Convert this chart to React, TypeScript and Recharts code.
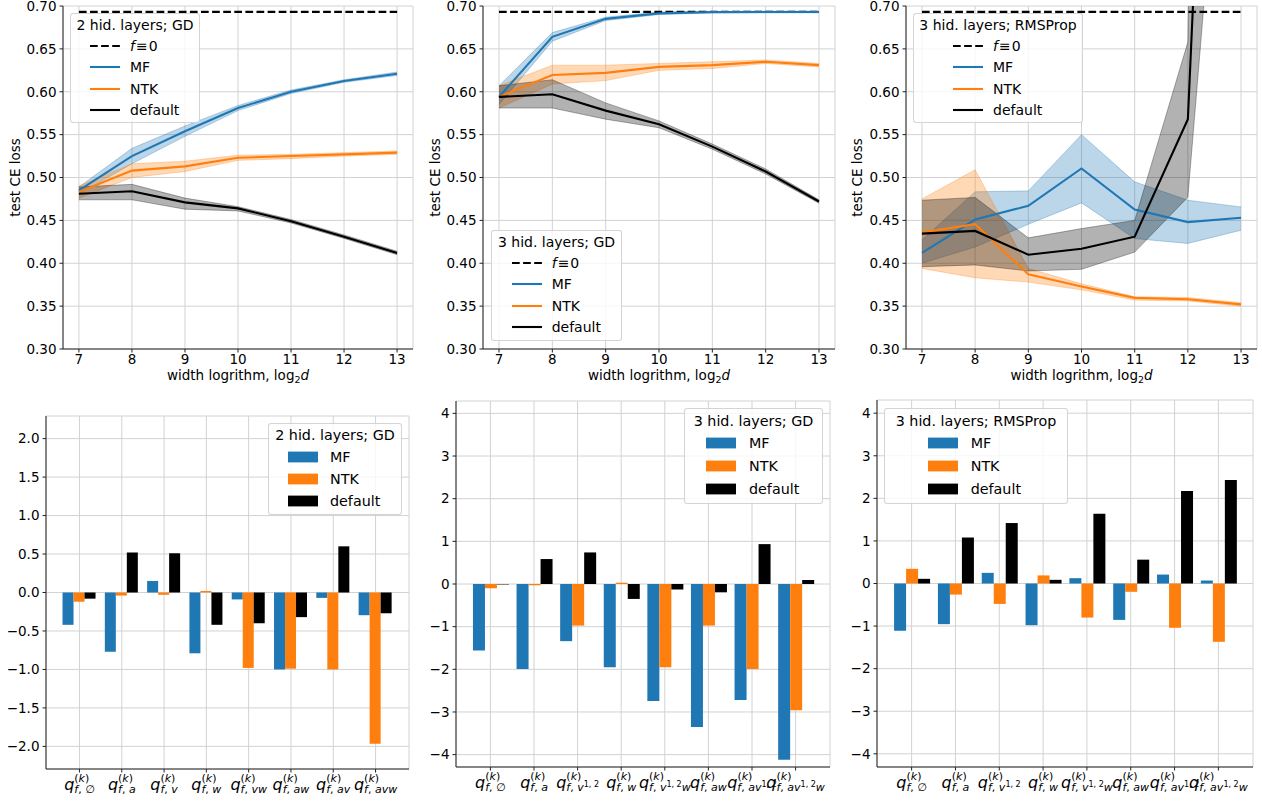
import React from "react";
import {
  ComposedChart,
  BarChart,
  Bar,
  Line,
  Area,
  XAxis,
  YAxis,
  CartesianGrid,
  Legend,
  Label,
} from "recharts";

const FONT = '"DejaVu Sans", Verdana, sans-serif';
const C_MF = "#1f77b4";
const C_NTK = "#ff7f0e";
const C_DEF = "#000000";
const GRID = "#d2d2d2";
const SPINE = "#222222";

// ---------------- top row: test CE loss vs width logarithm ----------------
const WIDTH_LOG2 = [7, 8, 9, 10, 11, 12, 13];
const LOSS_TICKS = [0.3, 0.35, 0.4, 0.45, 0.5, 0.55, 0.6, 0.65, 0.7];
const ZERO_LOSS = 0.6931; // f ≡ 0  (ln 2)

// 2 hidden layers; GD
const GD2_MF = [0.485, 0.525, 0.554, 0.581, 0.6, 0.6125, 0.621];
const GD2_MF_LO = [0.481, 0.516, 0.548, 0.578, 0.598, 0.611, 0.619];
const GD2_MF_HI = [0.489, 0.534, 0.56, 0.584, 0.602, 0.614, 0.623];
const GD2_NTK = [0.483, 0.508, 0.513, 0.523, 0.525, 0.527, 0.529];
const GD2_NTK_LO = [0.476, 0.5, 0.507, 0.52, 0.522, 0.525, 0.527];
const GD2_NTK_HI = [0.49, 0.516, 0.519, 0.526, 0.527, 0.529, 0.531];
const GD2_DEF = [0.481, 0.484, 0.471, 0.464, 0.449, 0.431, 0.412];
const GD2_DEF_LO = [0.474, 0.474, 0.463, 0.461, 0.447, 0.429, 0.41];
const GD2_DEF_HI = [0.489, 0.492, 0.476, 0.466, 0.451, 0.433, 0.414];

// 3 hidden layers; GD
const GD3_MF = [0.594, 0.664, 0.685, 0.6914, 0.6928, 0.693, 0.693];
const GD3_MF_LO = [0.585, 0.659, 0.683, 0.69, 0.692, 0.692, 0.692];
const GD3_MF_HI = [0.607, 0.669, 0.687, 0.693, 0.6935, 0.694, 0.694];
const GD3_NTK = [0.594, 0.6195, 0.622, 0.629, 0.631, 0.635, 0.631];
const GD3_NTK_LO = [0.581, 0.609, 0.613, 0.625, 0.627, 0.633, 0.629];
const GD3_NTK_HI = [0.607, 0.631, 0.631, 0.633, 0.635, 0.637, 0.633];
const GD3_DEF = [0.594, 0.597, 0.578, 0.562, 0.536, 0.507, 0.472];
const GD3_DEF_LO = [0.581, 0.581, 0.568, 0.558, 0.533, 0.504, 0.47];
const GD3_DEF_HI = [0.607, 0.614, 0.587, 0.566, 0.539, 0.51, 0.474];

// 3 hidden layers; RMSProp
const RMS3_MF = [0.412, 0.451, 0.467, 0.5105, 0.4626, 0.448, 0.453];
const RMS3_MF_LO = [0.4, 0.419, 0.4455, 0.4704, 0.4288, 0.4231, 0.4385];
const RMS3_MF_HI = [0.427, 0.4833, 0.4844, 0.55, 0.4949, 0.4735, 0.4657];
const RMS3_NTK = [0.436, 0.4455, 0.387, 0.373, 0.3596, 0.358, 0.352];
const RMS3_NTK_LO = [0.394, 0.383, 0.378, 0.369, 0.357, 0.356, 0.35];
const RMS3_NTK_HI = [0.475, 0.509, 0.394, 0.376, 0.361, 0.36, 0.354];
const RMS3_DEF = [0.4346, 0.4377, 0.41, 0.417, 0.431, 0.568, 1.95];
const RMS3_DEF_LO = [0.396, 0.398, 0.391, 0.393, 0.413, 0.477, 1.22];
const RMS3_DEF_HI = [0.4735, 0.4767, 0.4296, 0.4404, 0.45, 0.658, 4.0];

// ---------------- bottom row: q-coefficients ----------------
const Q_SUB_2L = ["∅", "a", "v", "w", "vw", "aw", "av", "avw"];
const Q_SUB_3L = ["∅", "a", "v^{1, 2}", "w", "v^{1, 2}w", "aw", "av^{1, 2}", "av^{1, 2}w"];
const Q_TICKS_2L = [-2, -1.5, -1, -0.5, 0, 0.5, 1, 1.5, 2];
const Q_TICKS_3L = [-4, -3, -2, -1, 0, 1, 2, 3, 4];

const Q_GD2_MF = [-0.42, -0.77, 0.15, -0.79, -0.09, -1.0, -0.07, -0.295];
const Q_GD2_NTK = [-0.12, -0.04, -0.03, 0.02, -0.98, -0.99, -1.0, -1.965];
const Q_GD2_DEF = [-0.08, 0.52, 0.51, -0.42, -0.4, -0.32, 0.6, -0.27];

const Q_GD3_MF = [-1.56, -1.99, -1.34, -1.95, -2.74, -3.35, -2.72, -4.12];
const Q_GD3_NTK = [-0.1, -0.03, -0.975, 0.03, -1.95, -0.975, -1.99, -2.96];
const Q_GD3_DEF = [-0.01, 0.585, 0.74, -0.35, -0.13, -0.195, 0.935, 0.094];

const Q_RMS3_MF = [-1.11, -0.955, 0.25, -0.98, 0.125, -0.855, 0.21, 0.07];
const Q_RMS3_NTK = [0.345, -0.26, -0.48, 0.19, -0.8, -0.195, -1.04, -1.37];
const Q_RMS3_DEF = [0.11, 1.08, 1.42, 0.086, 1.64, 0.56, 2.17, 2.43];

const SERIES = [
  { key: "mf", name: "MF", color: C_MF },
  { key: "ntk", name: "NTK", color: C_NTK },
  { key: "def", name: "default", color: C_DEF },
];

const TICK_STYLE = { fontSize: 13.5, fill: "#000", fontFamily: FONT };
const DASH = "7.7 3.4";

type LegendCfg = {
  left: number;
  top: number;
  width: number;
  height: number;
  title: string;
  titleY: number;
  rowY0: number;
  rowDY: number;
  handleX: number;
  textX: number;
  fontSize: number;
  patch: boolean;
};

function LegendBox({ cfg }: { cfg: LegendCfg }) {
  const entries: { key: string; name: React.ReactNode; color: string; dash?: boolean }[] = [];
  if (!cfg.patch) {
    entries.push({
      key: "zero",
      name: (
        <span>
          <span style={{ fontStyle: "italic" }}>f</span>
          <span style={{ padding: "0 1px" }}>≡</span>0
        </span>
      ),
      color: "#000",
      dash: true,
    });
  }
  SERIES.forEach((s) => entries.push({ key: s.key, name: s.name, color: s.color }));
  return (
    <div
      style={{
        position: "relative",
        width: cfg.width,
        height: cfg.height,
        boxSizing: "border-box",
        border: "1px solid rgba(204,204,204,0.85)",
        borderRadius: 3,
        background: "rgba(255,255,255,0.8)",
        fontFamily: FONT,
        fontSize: cfg.fontSize,
        color: "#000",
      }}
    >
      <div
        style={{
          position: "absolute",
          left: -1,
          right: -1,
          top: cfg.titleY - 10,
          lineHeight: "18px",
          textAlign: "center",
          whiteSpace: "nowrap",
        }}
      >
        {cfg.title}
      </div>
      {entries.map((e, i) => {
        const cy = cfg.rowY0 + i * cfg.rowDY - 1;
        return (
          <React.Fragment key={e.key}>
            <svg
              width={30}
              height={18}
              style={{ position: "absolute", left: cfg.handleX - 1, top: cy - 9 }}
            >
              {cfg.patch ? (
                <rect x={0} y={3.6} width={30} height={10.8} fill={e.color} />
              ) : (
                <line
                  x1={0}
                  x2={30}
                  y1={9}
                  y2={9}
                  stroke={e.color}
                  strokeWidth={2.1}
                  strokeDasharray={e.dash ? DASH : undefined}
                />
              )}
            </svg>
            <div
              style={{
                position: "absolute",
                left: cfg.textX - 1,
                top: cy - 9,
                lineHeight: "18px",
                whiteSpace: "nowrap",
              }}
            >
              {e.name}
            </div>
          </React.Fragment>
        );
      })}
    </div>
  );
}

const makeYLossLabel = (xOff: number) => (props: any) => {
  const vb = props.viewBox || { x: 0, y: 0, width: 0, height: 0 };
  const x = vb.x + xOff;
  const y = vb.y + vb.height / 2;
  return (
    <text
      x={x}
      y={y}
      transform={`rotate(-90 ${x} ${y})`}
      textAnchor="middle"
      fontSize={13.5}
      fontFamily={FONT}
      fill="#000"
    >
      test CE loss
    </text>
  );
};

const XLossLabel = (props: any) => {
  const vb = props.viewBox || { x: 0, y: 0, width: 0, height: 0 };
  return (
    <text
      x={vb.x + vb.width / 2}
      y={vb.y + 31}
      textAnchor="middle"
      fontSize={13.5}
      fontFamily={FONT}
      fill="#000"
    >
      width logrithm, log
      <tspan fontSize={9.5} dy={2.5}>
        2
      </tspan>
      <tspan fontStyle="italic" dy={-2.5}>
        d
      </tspan>
    </text>
  );
};

type LossSet = {
  mf: number[];
  mfLo: number[];
  mfHi: number[];
  ntk: number[];
  ntkLo: number[];
  ntkHi: number[];
  def: number[];
  defLo: number[];
  defHi: number[];
};

function LossPanel(props: {
  left: number;
  width: number;
  yAxisWidth: number;
  marginRight: number;
  yLabelX: number;
  set: LossSet;
  legend: LegendCfg;
}) {
  const { left, width, yAxisWidth, marginRight, yLabelX, set, legend } = props;
  const rows = WIDTH_LOG2.map((x, i) => ({
    x,
    zero: ZERO_LOSS,
    mf: set.mf[i],
    mfBand: [set.mfLo[i], set.mfHi[i]],
    ntk: set.ntk[i],
    ntkBand: [set.ntkLo[i], set.ntkHi[i]],
    def: set.def[i],
    defBand: [set.defLo[i], set.defHi[i]],
  }));
  return (
    <div style={{ position: "absolute", left, top: 0 }}>
      <ComposedChart
        width={width}
        height={390}
        data={rows}
        margin={{ top: 6, right: marginRight, bottom: 0, left: 0 }}
      >
        <XAxis
          dataKey="x"
          type="number"
          domain={[6.7, 13.3]}
          ticks={WIDTH_LOG2}
          interval={0}
          allowDataOverflow
          height={41}
          tick={TICK_STYLE}
          tickSize={3.5}
          tickMargin={1.5}
          tickLine={{ stroke: SPINE }}
          axisLine={{ stroke: SPINE }}
        >
          <Label content={XLossLabel} />
        </XAxis>
        <XAxis
          xAxisId="top"
          orientation="top"
          dataKey="x"
          type="number"
          domain={[6.7, 13.3]}
          height={0}
          tick={false}
          tickLine={false}
          axisLine={{ stroke: SPINE }}
        />
        <YAxis
          type="number"
          domain={[0.3, 0.7]}
          ticks={LOSS_TICKS}
          interval={0}
          allowDataOverflow
          width={yAxisWidth}
          tick={TICK_STYLE}
          tickSize={3.5}
          tickMargin={3}
          tickLine={{ stroke: SPINE }}
          axisLine={{ stroke: SPINE }}
          tickFormatter={(v: number) => v.toFixed(2)}
        >
          <Label content={makeYLossLabel(yLabelX)} />
        </YAxis>
        <YAxis
          yAxisId="right"
          orientation="right"
          type="number"
          domain={[0, 1]}
          width={0}
          tick={false}
          tickLine={false}
          axisLine={{ stroke: SPINE }}
        />
        {SERIES.map((s) => (
          <Area
            key={s.key + "Band"}
            type="linear"
            dataKey={s.key + "Band"}
            stroke={s.color}
            strokeOpacity={0.3}
            strokeWidth={1}
            fill={s.color}
            fillOpacity={0.3}
            dot={false}
            activeDot={false}
            legendType="none"
            isAnimationActive={false}
          />
        ))}
        <CartesianGrid stroke={GRID} strokeWidth={1} />
        <Line
          type="linear"
          dataKey="zero"
          stroke="#000"
          strokeWidth={2.1}
          strokeDasharray={DASH}
          dot={false}
          activeDot={false}
          isAnimationActive={false}
        />
        {SERIES.map((s) => (
          <Line
            key={s.key}
            type="linear"
            dataKey={s.key}
            stroke={s.color}
            strokeWidth={2.1}
            dot={false}
            activeDot={false}
            isAnimationActive={false}
          />
        ))}
        <Legend
          verticalAlign="middle"
          align="center"
          layout="horizontal"
          wrapperStyle={{
            left: legend.left,
            top: legend.top,
            width: legend.width,
            height: legend.height,
          }}
          content={() => <LegendBox cfg={legend} />}
        />
      </ComposedChart>
    </div>
  );
}

function parseSub(s: string) {
  const segs: { t: string; sup: boolean }[] = [];
  const re = /\^\{([^}]*)\}/g;
  let last = 0;
  let m: RegExpExecArray | null;
  while ((m = re.exec(s))) {
    if (m.index > last) segs.push({ t: s.slice(last, m.index), sup: false });
    segs.push({ t: m[1], sup: true });
    last = re.lastIndex;
  }
  if (last < s.length) segs.push({ t: s.slice(last), sup: false });
  return segs;
}

const QTick = (props: any) => {
  const { x, y, payload } = props;
  const segs = parseSub(String(payload.value));
  const parts: React.ReactNode[] = [];
  parts.push(
    <tspan key="q" fontSize={16} fontStyle="italic" dy={15}>
      q
    </tspan>
  );
  parts.push(
    <tspan key="k1" fontSize={11} dy={-7.5}>
      (
    </tspan>
  );
  parts.push(
    <tspan key="k2" fontSize={11} fontStyle="italic">
      k
    </tspan>
  );
  parts.push(
    <tspan key="k3" fontSize={11}>
      )
    </tspan>
  );
  parts.push(
    <tspan key="f" fontSize={11} fontStyle="italic" dx={-15} dy={11}>
      f
    </tspan>
  );
  parts.push(
    <tspan key="c" fontSize={11}>
      {", "}
    </tspan>
  );
  let pending = 0;
  segs.forEach((sg, i) => {
    if (sg.sup) {
      parts.push(
        <tspan key={"s" + i} fontSize={8} dy={-4 + pending}>
          {sg.t}
        </tspan>
      );
      pending = 4;
    } else {
      parts.push(
        <tspan
          key={"s" + i}
          fontSize={11}
          fontStyle={sg.t === "∅" ? "normal" : "italic"}
          dy={pending}
        >
          {sg.t}
        </tspan>
      );
      pending = 0;
    }
  });
  return (
    <text x={x} y={y} textAnchor="middle" fontFamily={FONT} fill="#000">
      {parts}
    </text>
  );
};

function QPanel(props: {
  left: number;
  width: number;
  marginTop: number;
  marginRight: number;
  yAxisWidth: number;
  xAxisHeight: number;
  domain: [number, number];
  ticks: number[];
  digits: number;
  subs: string[];
  mf: number[];
  ntk: number[];
  def: number[];
  pad: number;
  legend: LegendCfg;
}) {
  const p = props;
  const rows = p.subs.map((s, i) => ({ cat: s, mf: p.mf[i], ntk: p.ntk[i], def: p.def[i] }));
  const fmt = (v: number) => (v < 0 ? "\u2212" : "") + Math.abs(v).toFixed(p.digits);
  return (
    <div style={{ position: "absolute", left: p.left, top: 390 }}>
      <BarChart
        width={p.width}
        height={411}
        data={rows}
        margin={{ top: p.marginTop, right: p.marginRight, bottom: 0, left: 0 }}
        barCategoryGap="10%"
        barGap={0}
      >
        <CartesianGrid stroke={GRID} strokeWidth={1} />
        <XAxis
          dataKey="cat"
          type="category"
          interval={0}
          height={p.xAxisHeight}
          padding={{ left: p.pad, right: p.pad }}
          tick={<QTick />}
          tickSize={3.5}
          tickMargin={2}
          tickLine={{ stroke: SPINE }}
          axisLine={{ stroke: SPINE }}
        />
        <XAxis
          xAxisId="top"
          orientation="top"
          dataKey="cat"
          type="category"
          height={0}
          padding={{ left: p.pad, right: p.pad }}
          tick={false}
          tickLine={false}
          axisLine={{ stroke: SPINE }}
        />
        <YAxis
          type="number"
          domain={p.domain}
          ticks={p.ticks}
          interval={0}
          allowDataOverflow
          width={p.yAxisWidth}
          tick={TICK_STYLE}
          tickSize={3.5}
          tickMargin={3}
          tickLine={{ stroke: SPINE }}
          axisLine={{ stroke: SPINE }}
          tickFormatter={fmt}
        />
        <YAxis
          yAxisId="right"
          orientation="right"
          type="number"
          domain={[0, 1]}
          width={0}
          tick={false}
          tickLine={false}
          axisLine={{ stroke: SPINE }}
        />
        {SERIES.map((s) => (
          <Bar key={s.key} dataKey={s.key} name={s.name} fill={s.color} isAnimationActive={false} />
        ))}
        <Legend
          verticalAlign="middle"
          align="center"
          layout="horizontal"
          wrapperStyle={{
            left: p.legend.left,
            top: p.legend.top,
            width: p.legend.width,
            height: p.legend.height,
          }}
          content={() => <LegendBox cfg={p.legend} />}
        />
      </BarChart>
    </div>
  );
}

export default function App() {
  const lineLegend = {
    titleY: 12,
    rowY0: 33,
    rowDY: 21.33,
    fontSize: 14,
    patch: false,
  };
  const barLegend = { fontSize: 14.3, patch: true };
  return (
    <div
      style={{
        position: "absolute",
        left: 0,
        top: 0,
        width: 1262,
        height: 801,
        background: "#fff",
        overflow: "hidden",
        fontFamily: FONT,
      }}
    >
      <LossPanel
        left={0}
        width={420}
        yAxisWidth={63}
        marginRight={7}
        yLabelX={19.5}
        set={{
          mf: GD2_MF, mfLo: GD2_MF_LO, mfHi: GD2_MF_HI,
          ntk: GD2_NTK, ntkLo: GD2_NTK_LO, ntkHi: GD2_NTK_HI,
          def: GD2_DEF, defLo: GD2_DEF_LO, defHi: GD2_DEF_HI,
        }}
        legend={{ ...lineLegend, left: 70, top: 13, width: 130, height: 110, title: "2 hid. layers; GD", handleX: 20, textX: 60 }}
      />
      <LossPanel
        left={420}
        width={420}
        yAxisWidth={63}
        marginRight={5}
        yLabelX={19.5}
        set={{
          mf: GD3_MF, mfLo: GD3_MF_LO, mfHi: GD3_MF_HI,
          ntk: GD3_NTK, ntkLo: GD3_NTK_LO, ntkHi: GD3_NTK_HI,
          def: GD3_DEF, defLo: GD3_DEF_LO, defHi: GD3_DEF_HI,
        }}
        legend={{ ...lineLegend, left: 71, top: 230, width: 131, height: 111, title: "3 hid. layers; GD", handleX: 20.7, textX: 60.7 }}
      />
      <LossPanel
        left={840}
        width={422}
        yAxisWidth={66}
        marginRight={5}
        yLabelX={21.5}
        set={{
          mf: RMS3_MF, mfLo: RMS3_MF_LO, mfHi: RMS3_MF_HI,
          ntk: RMS3_NTK, ntkLo: RMS3_NTK_LO, ntkHi: RMS3_NTK_HI,
          def: RMS3_DEF, defLo: RMS3_DEF_LO, defHi: RMS3_DEF_HI,
        }}
        legend={{ ...lineLegend, left: 73, top: 13, width: 170, height: 110, title: "3 hid. layers; RMSProp", handleX: 40, textX: 80 }}
      />
      <QPanel
        left={0}
        width={420}
        marginTop={26}
        marginRight={11}
        yAxisWidth={46}
        xAxisHeight={32}
        domain={[-2.294, 2.294]}
        ticks={Q_TICKS_2L}
        digits={1}
        subs={Q_SUB_2L}
        mf={Q_GD2_MF}
        ntk={Q_GD2_NTK}
        def={Q_GD2_DEF}
        pad={12.3}
        legend={{ ...barLegend, left: 268, top: 33, width: 134, height: 92, title: "2 hid. layers; GD", titleY: 12, rowY0: 33.7, rowDY: 22, handleX: 20, textX: 62 }}
      />
      <QPanel
        left={420}
        width={420}
        marginTop={11}
        marginRight={10}
        yAxisWidth={36}
        xAxisHeight={34}
        domain={[-4.29, 4.29]}
        ticks={Q_TICKS_3L}
        digits={0}
        subs={Q_SUB_3L}
        mf={Q_GD3_MF}
        ntk={Q_GD3_NTK}
        def={Q_GD3_DEF}
        pad={12.6}
        legend={{ ...barLegend, left: 264, top: 18, width: 139, height: 96, title: "3 hid. layers; GD", titleY: 12.7, rowY0: 35.3, rowDY: 22.7, handleX: 22, textX: 65 }}
      />
      <QPanel
        left={840}
        width={422}
        marginTop={10}
        marginRight={9}
        yAxisWidth={37}
        xAxisHeight={34}
        domain={[-4.31, 4.31]}
        ticks={Q_TICKS_3L}
        digits={0}
        subs={Q_SUB_3L}
        mf={Q_RMS3_MF}
        ntk={Q_RMS3_NTK}
        def={Q_RMS3_DEF}
        pad={12.7}
        legend={{ ...barLegend, left: 44, top: 18, width: 184, height: 96, title: "3 hid. layers; RMSProp", titleY: 12.7, rowY0: 35.3, rowDY: 22.7, handleX: 43.7, textX: 86.7 }}
      />
    </div>
  );
}
